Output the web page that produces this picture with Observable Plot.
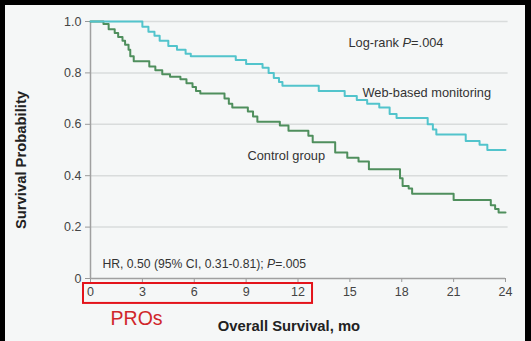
<!DOCTYPE html>
<html><head><meta charset="utf-8">
<script src="https://cdn.jsdelivr.net/npm/d3@7"></script>
<script src="https://cdn.jsdelivr.net/npm/@observablehq/plot@0.6"></script>
<style>
html,body{margin:0;padding:0;background:#000;width:531px;height:341px;overflow:hidden}
#panel{position:absolute;left:5px;top:5px;width:520px;height:336px;background:#f5f7f7}
</style></head><body><div id="panel"></div>
<script>
// Web-based monitoring (months, survival probability)
const webMonths = [0, 3.0, 3.35, 3.7, 4.0, 4.5, 5.0, 5.5, 5.8, 8.4, 9.0, 9.95, 10.3, 10.6, 10.9, 11.1, 13.2, 14.7, 15.4, 16.0, 16.7, 17.3, 17.7, 19.5, 19.8, 20.0, 21.7, 22.5, 22.95, 24];
const webSurv   = [1.0, 0.98, 0.96, 0.945, 0.925, 0.905, 0.89, 0.875, 0.865, 0.85, 0.835, 0.82, 0.80, 0.78, 0.765, 0.75, 0.73, 0.71, 0.695, 0.68, 0.665, 0.64, 0.625, 0.60, 0.58, 0.56, 0.535, 0.52, 0.50, 0.50];
// Control group
const ctrlMonths = [0, 0.75, 1.05, 1.4, 1.6, 1.85, 2.0, 2.2, 2.3, 2.5, 3.4, 3.75, 4.15, 4.6, 5.2, 5.55, 5.9, 6.1, 6.35, 7.75, 8.0, 8.2, 9.1, 9.4, 9.65, 10.95, 11.45, 12.6, 12.85, 14.15, 14.85, 15.5, 16.1, 17.9, 18.05, 18.4, 18.6, 21.0, 23.15, 23.4, 23.6, 24];
const ctrlSurv   = [1.0, 0.99, 0.97, 0.955, 0.94, 0.925, 0.91, 0.89, 0.865, 0.845, 0.825, 0.81, 0.795, 0.785, 0.775, 0.76, 0.745, 0.73, 0.72, 0.70, 0.68, 0.665, 0.65, 0.63, 0.61, 0.595, 0.575, 0.555, 0.53, 0.49, 0.47, 0.455, 0.425, 0.39, 0.36, 0.35, 0.33, 0.305, 0.285, 0.27, 0.257, 0.257];

const xTicks = [0, 3, 6, 9, 12, 15, 18, 21, 24];
const yTicks = [0, 0.2, 0.4, 0.6, 0.8, 1.0];

const labels = [
  {x: 14.92, y: 0.918, text: "Log-rank P=.004"},
  {x: 15.73, y: 0.724, text: "Web-based monitoring"},
  {x: 9.08,  y: 0.479, text: "Control group"}
];
const footLabel = [{x: 0.69, y: 0.058, text: "HR, 0.50 (95% CI, 0.31-0.81); P=.005"}];
const highlight = [{x1: -0.405, x2: 12.84, y1: -0.0195, y2: -0.097}];
const highlightLabel = [{x: 1.16, y: -0.156, text: "PROs"}];

const web = webMonths.map((t, i) => ({t, s: webSurv[i]}));
const ctrl = ctrlMonths.map((t, i) => ({t, s: ctrlSurv[i]}));

const chart = Plot.plot({
  width: 520, height: 336,
  marginLeft: 85, marginRight: 20, marginTop: 16, marginBottom: 63,
  style: {background: "transparent", fontFamily: "Liberation Sans, Arial, sans-serif", fontSize: "12px", color: "#444"},
  x: {domain: [0, 24], label: null},
  y: {domain: [0, 1], label: null},
  marks: [
    Plot.ruleY(yTicks.filter(d => d > 0), {x1: 0, x2: 24.15, stroke: "#d9dcdc", strokeWidth: 1.5}),
    Plot.axisX({ticks: xTicks, tickSize: 4, tickPadding: 5, stroke: "#999", fill: "#444", fontSize: 12.5}),
    Plot.axisY({ticks: yTicks, tickSize: 5, tickPadding: 4, stroke: "#999", fill: "#444", fontSize: 12.5,
      tickFormat: d => d === 0 ? "0" : d.toFixed(1)}),
    Plot.ruleX([0], {y1: 0, y2: 1, stroke: "#a0a0a0", strokeWidth: 1.5}),
    Plot.ruleY([0], {x1: 0, x2: 24, stroke: "#a0a0a0", strokeWidth: 1.5}),
    Plot.line(ctrl, {x: "t", y: "s", curve: "step-after", stroke: "#4f8f5d", strokeWidth: 2}),
    Plot.line(web, {x: "t", y: "s", curve: "step-after", stroke: "#52c4cc", strokeWidth: 2}),
    Plot.text(labels, {x: "x", y: "y", text: "text", textAnchor: "start", fill: "#333", fontSize: 12.8}),
    Plot.text(footLabel, {x: "x", y: "y", text: "text", textAnchor: "start", fill: "#333", fontSize: 12.2}),
    Plot.rect(highlight, {x1: "x1", x2: "x2", y1: "y1", y2: "y2", fill: "none", stroke: "#e3141b", strokeWidth: 2}),
    Plot.text(highlightLabel, {x: "x", y: "y", text: "text", textAnchor: "start", fill: "#d0262a", fontSize: 19.5})
  ]
});

const svg = d3.select(chart);
svg.selectAll("text").each(function() {
  const t = this.textContent;
  if (t.includes("P=") && this.children.length === 0) {
    const i = t.indexOf("P=");
    const el = d3.select(this);
    el.text(null);
    el.append("tspan").text(t.slice(0, i));
    el.append("tspan").attr("font-style", "italic").text("P");
    el.append("tspan").text(t.slice(i + 1));
  }
});
svg.append("text")
  .attr("transform", "translate(17,155) rotate(-90)")
  .attr("text-anchor", "middle").attr("dominant-baseline", "middle")
  .attr("font-weight", "bold").attr("font-size", 14.8).attr("fill", "#222")
  .text("Survival Probability");
svg.append("text")
  .attr("x", 284).attr("y", 326)
  .attr("text-anchor", "middle")
  .attr("font-weight", "bold").attr("font-size", 14.8).attr("fill", "#222")
  .text("Overall Survival, mo");

document.getElementById("panel").appendChild(chart);
</script></body></html>
